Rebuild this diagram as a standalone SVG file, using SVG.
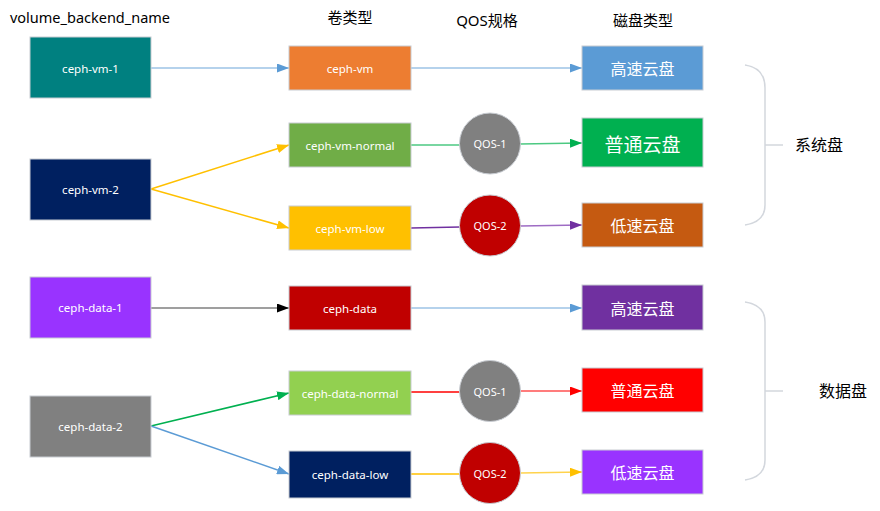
<svg xmlns="http://www.w3.org/2000/svg" width="880" height="511" viewBox="0 0 880 511">
<defs>
<style>
.box{stroke:#c8ccd2;stroke-width:1}
.lbl{font-family:"Noto Sans","Open Sans","Liberation Sans",sans-serif;font-size:11.5px;fill:#ffffff;text-anchor:middle;dominant-baseline:central}
.zh{font-family:"Noto Sans CJK SC","Noto Sans",sans-serif;font-size:16px;fill:#ffffff;text-anchor:middle;dominant-baseline:central}
.hdr{font-family:"Noto Sans","Noto Sans CJK SC",sans-serif;font-size:15px;fill:#000000;text-anchor:middle;dominant-baseline:central}
.qos{font-family:"Noto Sans","Open Sans","Liberation Sans",sans-serif;font-size:11px;fill:#ffffff;text-anchor:middle;dominant-baseline:central}
.ln{fill:none;stroke-width:1.5}
.brace{fill:none;stroke:#d3d7dd;stroke-width:1.5}
</style>
<marker id="aBlue" markerUnits="userSpaceOnUse" markerWidth="12" markerHeight="9" refX="12" refY="4.5" orient="auto"><path d="M0,0 L12,4.5 L0,9 z" fill="#5B9BD5"/></marker>
<marker id="aYel" markerUnits="userSpaceOnUse" markerWidth="12" markerHeight="9" refX="12" refY="4.5" orient="auto"><path d="M0,0 L12,4.5 L0,9 z" fill="#FFC000"/></marker>
<marker id="aGrn" markerUnits="userSpaceOnUse" markerWidth="12" markerHeight="9" refX="12" refY="4.5" orient="auto"><path d="M0,0 L12,4.5 L0,9 z" fill="#00B050"/></marker>
<marker id="aPur" markerUnits="userSpaceOnUse" markerWidth="12" markerHeight="9" refX="12" refY="4.5" orient="auto"><path d="M0,0 L12,4.5 L0,9 z" fill="#7030A0"/></marker>
<marker id="aBlk" markerUnits="userSpaceOnUse" markerWidth="12" markerHeight="9" refX="12" refY="4.5" orient="auto"><path d="M0,0 L12,4.5 L0,9 z" fill="#000000"/></marker>
<marker id="aRed" markerUnits="userSpaceOnUse" markerWidth="12" markerHeight="9" refX="12" refY="4.5" orient="auto"><path d="M0,0 L12,4.5 L0,9 z" fill="#FF0000"/></marker>
</defs>
<rect width="880" height="511" fill="#ffffff"/>

<g id="headers">
<text class="hdr" x="90" y="17" style="font-size:14.5px">volume_backend_name</text>
<text class="hdr" x="350" y="17">卷类型</text>
<text class="hdr" x="487" y="20">QOS规格</text>
<text class="hdr" x="643" y="20">磁盘类型</text>
</g>

<g id="connectors">
<path class="ln" d="M151,68 L289,68" stroke="#9DC3E6" stroke-width="2" marker-end="url(#aBlue)"/>
<path class="ln" d="M411,68 L582,68" stroke="#9DC3E6" stroke-width="2" marker-end="url(#aBlue)"/>
<path class="ln" d="M151,189 L289,145" stroke="#FFC000" marker-end="url(#aYel)"/>
<path class="ln" d="M151,189 L289,228" stroke="#FFC000" marker-end="url(#aYel)"/>
<path class="ln" d="M411,145 L460,145" stroke="#4CC982"/>
<path class="ln" d="M520,144 L582,143" stroke="#4CC982" marker-end="url(#aGrn)"/>
<path class="ln" d="M411,228 L460,227" stroke="#7030A0"/>
<path class="ln" d="M520,226 L582,225" stroke="#9E6CC4" marker-end="url(#aPur)"/>
<path class="ln" d="M151,308 L289,308" stroke="#7F7F7F" stroke-width="2" marker-end="url(#aBlk)"/>
<path class="ln" d="M411,308 L582,308" stroke="#9DC3E6" stroke-width="2" marker-end="url(#aBlue)"/>
<path class="ln" d="M151,426 L289,393" stroke="#00B050" marker-end="url(#aGrn)"/>
<path class="ln" d="M151,426 L289,474" stroke="#5B9BD5" marker-end="url(#aBlue)"/>
<path class="ln" d="M411,392 L460,392" stroke="#FF0000"/>
<path class="ln" d="M520,391 L582,391" stroke="#FF5050" marker-end="url(#aRed)"/>
<path class="ln" d="M411,474 L460,474" stroke="#FFC000"/>
<path class="ln" d="M520,473 L582,472" stroke="#FFD34D" marker-end="url(#aYel)"/>
</g>

<g id="ceph-vm-1"><rect class="box" x="30" y="37" width="121" height="61" fill="#008080"/><text class="lbl" x="90.5" y="68">ceph-vm-1</text></g>
<g id="ceph-vm-2"><rect class="box" x="30" y="159" width="121" height="61" fill="#002060"/><text class="lbl" x="90.5" y="189.5">ceph-vm-2</text></g>
<g id="ceph-data-1"><rect class="box" x="30" y="277" width="121" height="61" fill="#9933FF"/><text class="lbl" x="90.5" y="307.5">ceph-data-1</text></g>
<g id="ceph-data-2"><rect class="box" x="30" y="396" width="121" height="61" fill="#808080"/><text class="lbl" x="90.5" y="426.5">ceph-data-2</text></g>

<g id="ceph-vm"><rect class="box" x="289" y="46" width="122" height="44" fill="#ED7D31"/><text class="lbl" x="350" y="68">ceph-vm</text></g>
<g id="ceph-vm-normal"><rect class="box" x="289" y="123" width="122" height="44" fill="#70AD47"/><text class="lbl" x="350" y="145">ceph-vm-normal</text></g>
<g id="ceph-vm-low"><rect class="box" x="289" y="206" width="122" height="44" fill="#FFC000"/><text class="lbl" x="350" y="228">ceph-vm-low</text></g>
<g id="ceph-data"><rect class="box" x="289" y="286" width="122" height="44" fill="#C00000"/><text class="lbl" x="350" y="308">ceph-data</text></g>
<g id="ceph-data-normal"><rect class="box" x="289" y="371" width="122" height="44" fill="#92D050"/><text class="lbl" x="350" y="393">ceph-data-normal</text></g>
<g id="ceph-data-low"><rect class="box" x="289" y="451" width="122" height="47" fill="#002060"/><text class="lbl" x="350" y="474">ceph-data-low</text></g>

<g id="qos-1-vm"><circle class="box" cx="490" cy="143.5" r="30.5" fill="#808080"/><text class="qos" x="490" y="143.5">QOS-1</text></g>
<g id="qos-2-vm"><circle class="box" cx="490" cy="225.5" r="30.5" fill="#C00000"/><text class="qos" x="490" y="225.5">QOS-2</text></g>
<g id="qos-1-data"><circle class="box" cx="490" cy="391" r="30.5" fill="#808080"/><text class="qos" x="490" y="391">QOS-1</text></g>
<g id="qos-2-data"><circle class="box" cx="490" cy="473" r="30.5" fill="#C00000"/><text class="qos" x="490" y="473">QOS-2</text></g>

<g id="disk-high-sys"><rect class="box" x="582" y="46" width="121" height="44" fill="#5B9BD5"/><text class="zh" x="642.5" y="68">高速云盘</text></g>
<g id="disk-normal-sys"><rect class="box" x="582" y="118" width="121" height="49" fill="#00B050"/><text class="zh" x="642.5" y="143" style="font-size:19px">普通云盘</text></g>
<g id="disk-low-sys"><rect class="box" x="582" y="203" width="121" height="44" fill="#C55A11"/><text class="zh" x="642.5" y="225">低速云盘</text></g>
<g id="disk-high-data"><rect class="box" x="582" y="285" width="121" height="45" fill="#7030A0"/><text class="zh" x="642.5" y="307.5">高速云盘</text></g>
<g id="disk-normal-data"><rect class="box" x="582" y="368" width="121" height="44" fill="#FF0000"/><text class="zh" x="642.5" y="390">普通云盘</text></g>
<g id="disk-low-data"><rect class="box" x="582" y="450" width="121" height="44" fill="#9933FF"/><text class="zh" x="642.5" y="472">低速云盘</text></g>

<g id="brace-system">
<path class="brace" d="M745,65 Q765,68 765,88 L765,205 Q765,222 745,225 M765,145 L783,145"/>
<text class="hdr" x="819" y="145" style="font-size:16px">系统盘</text>
</g>
<g id="brace-data">
<path class="brace" d="M745,302 Q765,305 765,322 L765,460 Q765,477 745,480 M765,391 L783,391"/>
<text class="hdr" x="843" y="391" style="font-size:16px">数据盘</text>
</g>
</svg>
